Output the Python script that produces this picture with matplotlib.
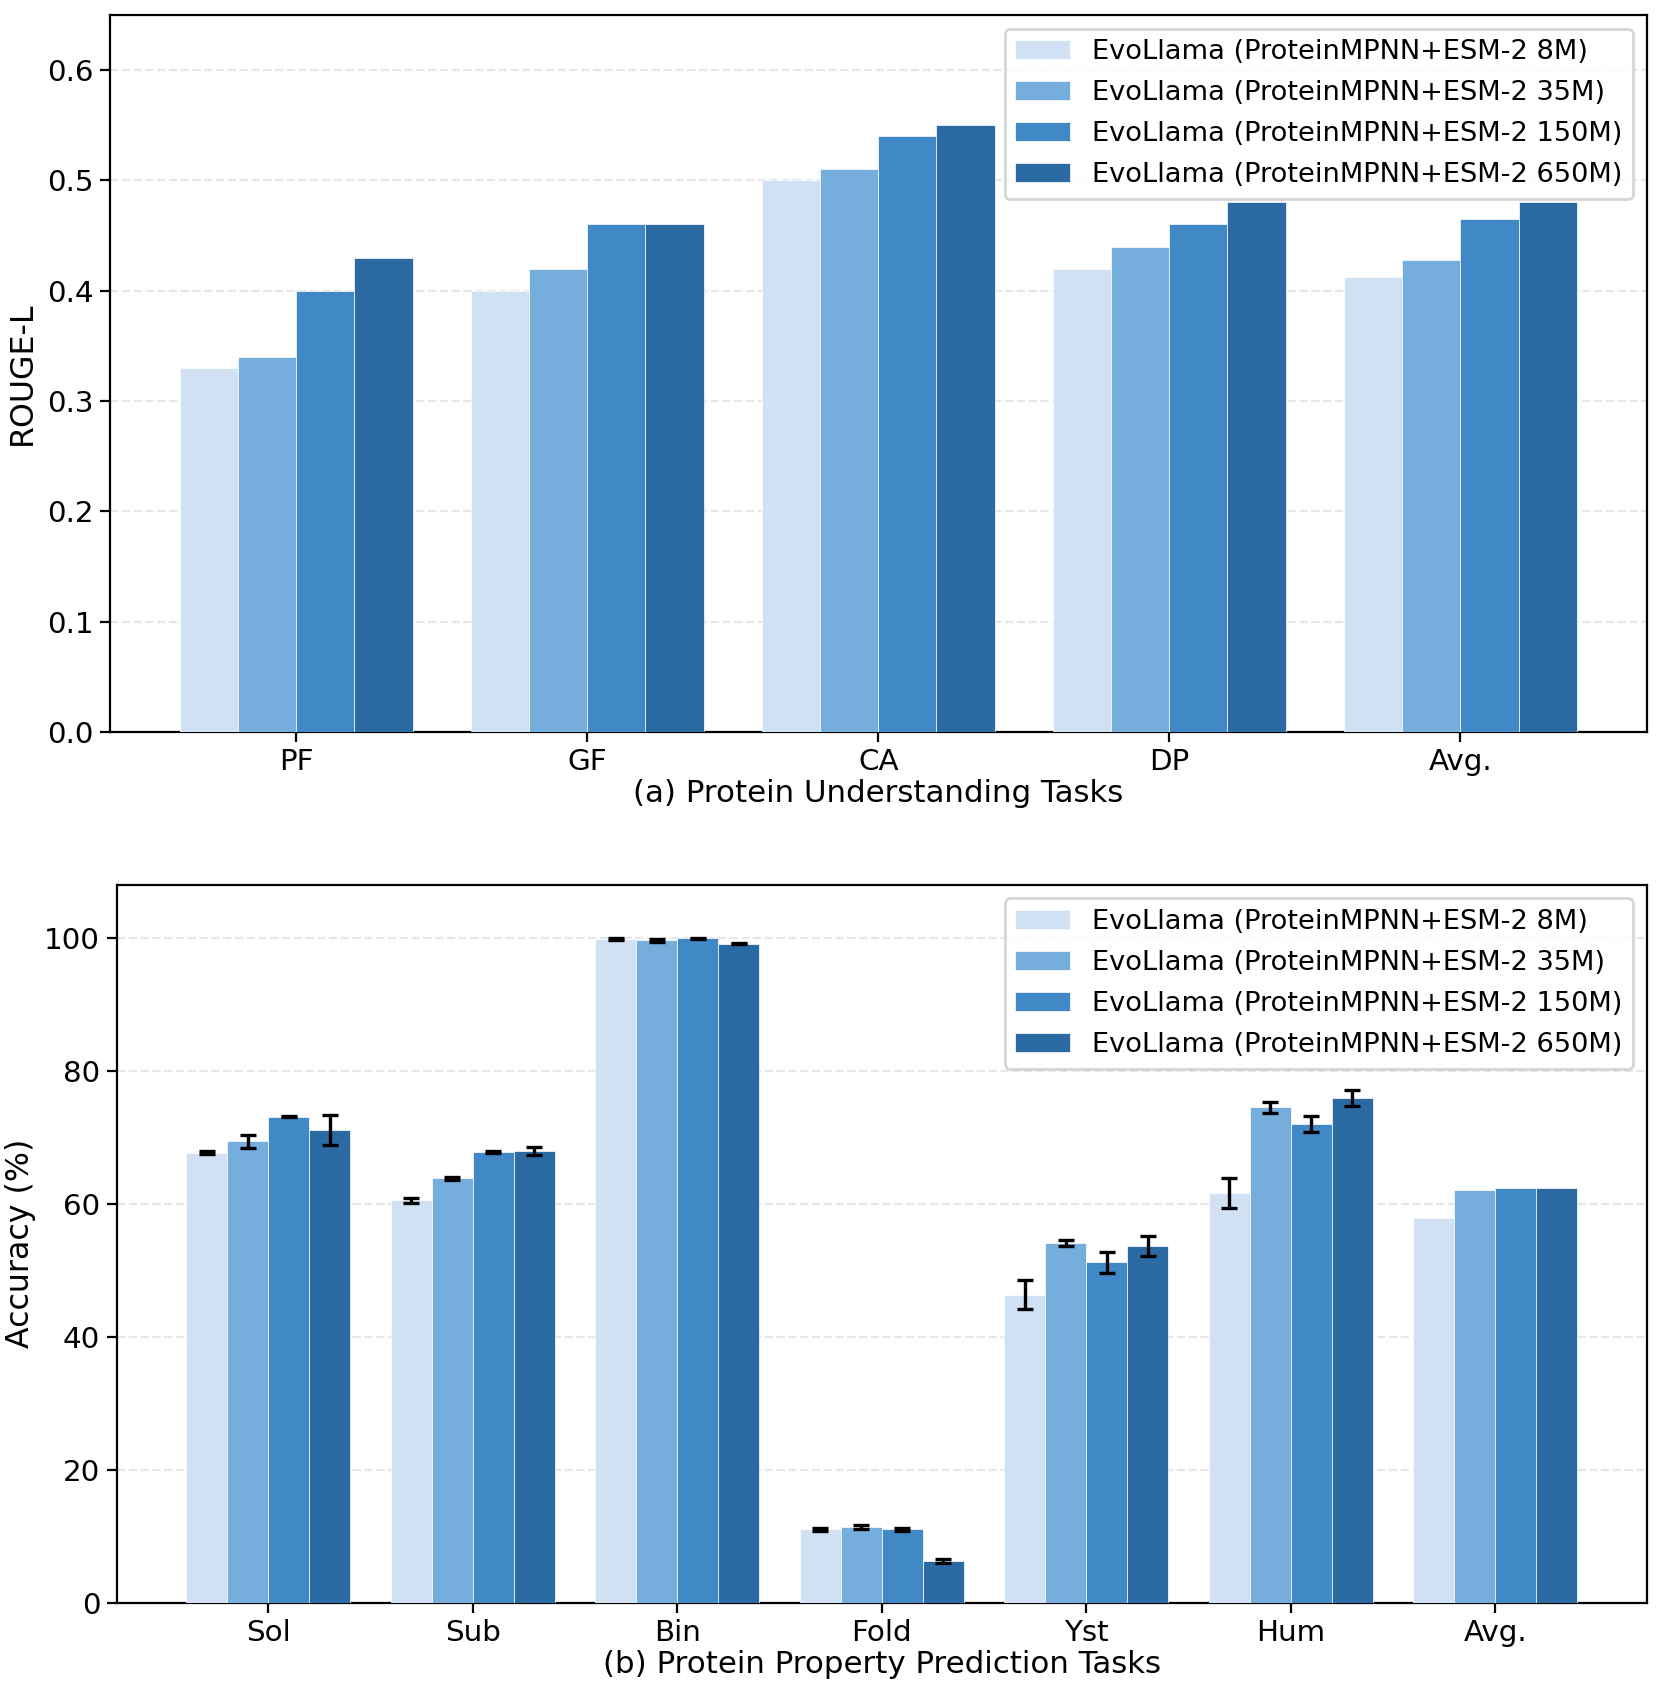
import matplotlib
matplotlib.use("Agg")
import matplotlib.pyplot as plt
import numpy as np

models = ["EvoLlama (ProteinMPNN+ESM-2 8M)", "EvoLlama (ProteinMPNN+ESM-2 35M)",
          "EvoLlama (ProteinMPNN+ESM-2 150M)", "EvoLlama (ProteinMPNN+ESM-2 650M)"]
colors = ["#cfe1f2", "#75aedc", "#4089c6", "#2b6aa3"]

tasks_a = ["PF", "GF", "CA", "DP", "Avg."]
rouge_8m = [0.33, 0.40, 0.50, 0.42, 0.4125]
rouge_35m = [0.34, 0.42, 0.51, 0.44, 0.4275]
rouge_150m = [0.40, 0.46, 0.54, 0.46, 0.465]
rouge_650m = [0.43, 0.46, 0.55, 0.48, 0.48]

tasks_b = ["Sol", "Sub", "Bin", "Fold", "Yst", "Hum", "Avg."]
acc_8m = [67.7, 60.5, 99.8, 11.0, 46.3, 61.6, 57.8]
acc_35m = [69.4, 63.8, 99.6, 11.4, 54.1, 74.5, 62.1]
acc_150m = [73.1, 67.8, 99.9, 11.0, 51.2, 72.0, 62.4]
acc_650m = [71.1, 68.0, 99.1, 6.2, 53.7, 75.9, 62.3]
err_8m = [0.2, 0.4, 0.1, 0.2, 2.2, 2.3]
err_35m = [1.0, 0.2, 0.2, 0.3, 0.5, 0.8]
err_150m = [0.1, 0.1, 0.1, 0.2, 1.6, 1.2]
err_650m = [2.2, 0.6, 0.1, 0.3, 1.5, 1.2]

fig = plt.figure(figsize=(8.305, 8.48), dpi=200)
ax1 = fig.add_axes([0.0662, 0.5685, 0.9251, 0.4227])
ax2 = fig.add_axes([0.0704, 0.0551, 0.9209, 0.4233])

w = 0.2
offs = [-1.5 * w, -0.5 * w, 0.5 * w, 1.5 * w]

def style(ax, ylabel, xlabel):
    ax.set_ylabel(ylabel, fontsize=11.4, labelpad=3)
    ax.set_xlabel(xlabel, fontsize=11.1, labelpad=1)
    ax.tick_params(axis="both", labelsize=10.6, pad=2.5)
    ax.grid(axis="y", linestyle="--", alpha=0.3, zorder=0)
    ax.set_axisbelow(True)
    ax.legend(loc="upper right", fontsize=9.8, labelspacing=0.55)

x = np.arange(len(tasks_a))
for vals, c, lab, o in zip([rouge_8m, rouge_35m, rouge_150m, rouge_650m], colors, models, offs):
    ax1.bar(x + o, vals, w, color=c, label=lab, edgecolor="#ffffff", linewidth=0.25, zorder=3)
ax1.set_xticks(x)
ax1.set_xticklabels(tasks_a)
ax1.set_ylim(0, 0.65)
style(ax1, "ROUGE-L", "(a) Protein Understanding Tasks")

x = np.arange(len(tasks_b))
for vals, errs, c, lab, o in zip([acc_8m, acc_35m, acc_150m, acc_650m],
                                 [err_8m, err_35m, err_150m, err_650m], colors, models, offs):
    ax2.bar(x + o, vals, w, color=c, label=lab, edgecolor="#ffffff", linewidth=0.25, zorder=3)
    n = len(errs)
    ax2.errorbar(x[:n] + o, vals[:n], yerr=errs, fmt="none", ecolor="black",
                 capsize=3, elinewidth=1.2, capthick=1.2, zorder=4)
ax2.set_xticks(x)
ax2.set_xticklabels(tasks_b)
ax2.set_ylim(0, 108)
style(ax2, "Accuracy (%)", "(b) Protein Property Prediction Tasks")

fig.savefig("out.png", dpi=200)
